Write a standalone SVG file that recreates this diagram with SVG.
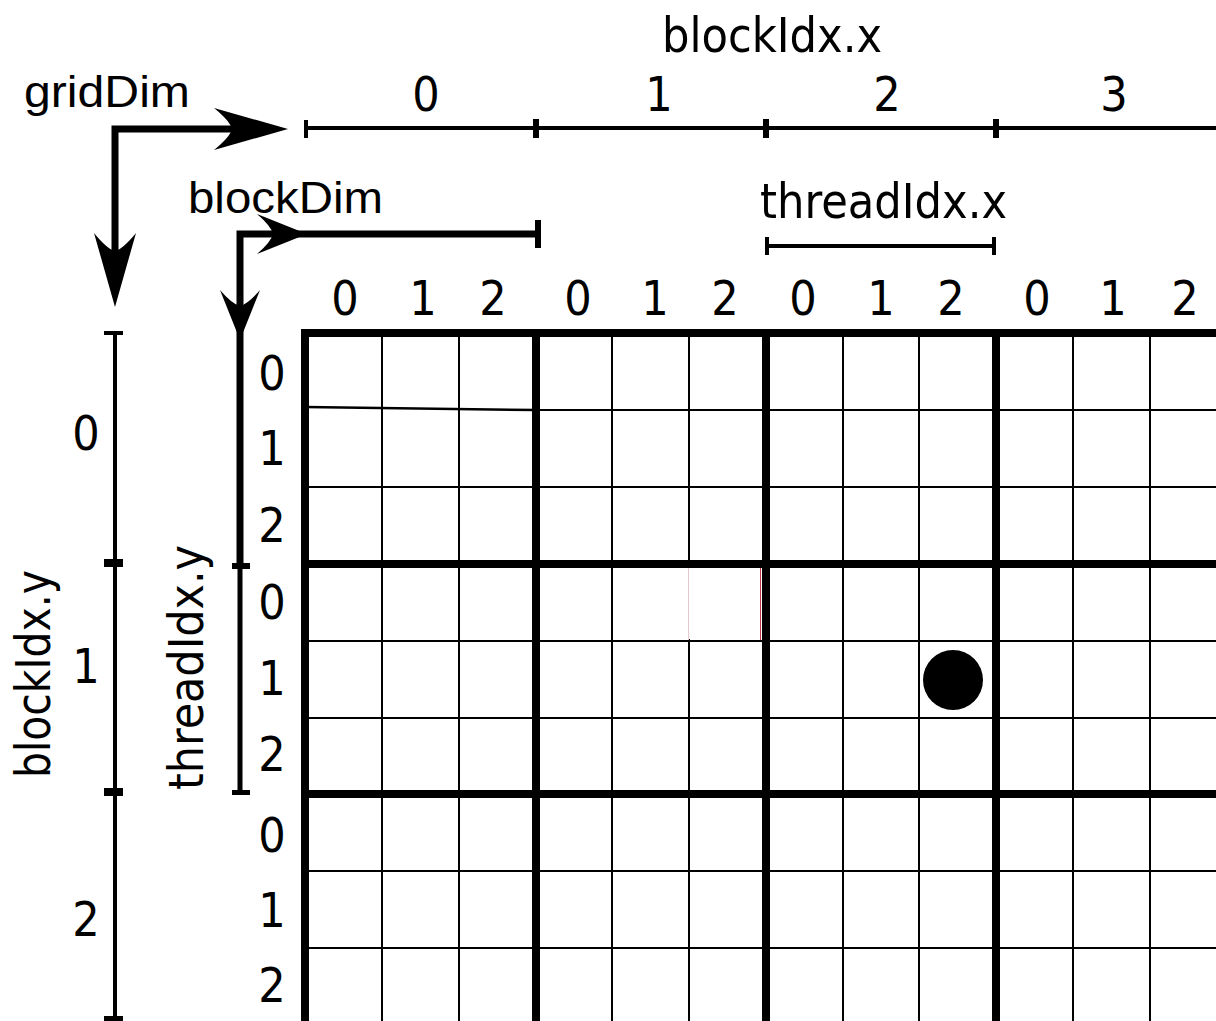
<svg xmlns="http://www.w3.org/2000/svg" width="1216" height="1021" viewBox="0 0 1216 1021">
<style>
.t{font-family:"DejaVu Sans Condensed","DejaVu Sans",sans-serif;font-size:48px;fill:#000}
.a{font-family:"Liberation Sans",Arial,sans-serif;font-size:45px;fill:#000}
.thin{stroke:#000;stroke-width:2;fill:none}
.thick{stroke:#000;stroke-width:8;fill:none}
.ax{stroke:#000;stroke-width:4;fill:none}
.el{stroke:#000;stroke-width:7;fill:none;stroke-linejoin:miter}
</style>
<defs>
<path id="bigHead" d="M0,0 L-74,-21 Q-58,-8 -56,0 Q-58,8 -74,21 Z" fill="#000"/>
<path id="smallHead" d="M0,0 L-50,-20 Q-36,-8 -34,0 Q-36,8 -50,20 Z" fill="#000"/>
</defs>
<rect width="1216" height="1021" fill="#fff"/>

<g id="grid">
<g class="thin">
<line x1="382" y1="333" x2="382" y2="1021"/>
<line x1="459" y1="333" x2="459" y2="1021"/>
<line x1="612" y1="333" x2="612" y2="1021"/>
<line x1="689" y1="333" x2="689" y2="1021"/>
<line x1="843" y1="333" x2="843" y2="1021"/>
<line x1="919" y1="333" x2="919" y2="1021"/>
<line x1="1073" y1="333" x2="1073" y2="1021"/>
<line x1="1150" y1="333" x2="1150" y2="1021"/>
<line x1="305" y1="407" x2="536" y2="410" stroke-width="2.5"/>
<line x1="536" y1="410" x2="1216" y2="410"/>
<line x1="305" y1="487" x2="1216" y2="487"/>
<line x1="305" y1="641" x2="1216" y2="641"/>
<line x1="305" y1="718" x2="1216" y2="718"/>
<line x1="305" y1="871" x2="1216" y2="871"/>
<line x1="305" y1="948" x2="1216" y2="948"/>
</g>
<g id="highlight-cell">
<rect x="688" y="567" width="73" height="72" fill="#fff"/>
<line x1="688.5" y1="567" x2="688.5" y2="640" stroke="#e8c8cc" stroke-width="1"/>
<line x1="760.5" y1="567" x2="760.5" y2="640" stroke="#c03848" stroke-width="1"/>
<line x1="689" y1="641" x2="761" y2="641" stroke="#000" stroke-width="2"/>
</g>
<g class="thick">
<line x1="305" y1="329" x2="305" y2="1021"/>
<line x1="536" y1="329" x2="536" y2="1021"/>
<line x1="766" y1="329" x2="766" y2="1021"/>
<line x1="996" y1="329" x2="996" y2="1021"/>
<line x1="301" y1="333" x2="1216" y2="333"/>
<line x1="301" y1="564" x2="1216" y2="564"/>
<line x1="301" y1="794" x2="1216" y2="794"/>
</g>
</g>

<g id="thread">
<circle cx="953" cy="680" r="30" fill="#000"/>
</g>

<g id="connectors">
<path class="el" d="M115,290 V129 H270"/>
<use href="#bigHead" transform="translate(288,129)"/>
<use href="#bigHead" transform="translate(115,307) rotate(90)"/>
<path class="el" d="M538,234 H240 V566"/>
<line x1="240" y1="566" x2="240" y2="792" stroke="#000" stroke-width="5"/>
<use href="#smallHead" transform="translate(307,234)"/>
<use href="#smallHead" transform="translate(240,340) rotate(90)"/>
<rect x="535" y="220" width="6" height="28" fill="#000"/>
<rect x="232" y="563" width="18" height="6" fill="#000"/>
<rect x="232" y="790" width="18" height="5" fill="#000"/>
</g>

<g id="blockIdx-x-axis">
<line class="ax" x1="306" y1="128" x2="1216" y2="128"/>
<rect x="304" y="120" width="4" height="18" fill="#000"/>
<rect x="533" y="119" width="6" height="19" fill="#000"/>
<rect x="763" y="119" width="6" height="19" fill="#000"/>
<rect x="993" y="119" width="6" height="19" fill="#000"/>
<text class="t" x="662" y="52" textLength="220" lengthAdjust="spacingAndGlyphs">blockIdx.x</text>
<text class="t" x="426" y="111" text-anchor="middle">0</text>
<text class="t" x="659" y="111" text-anchor="middle">1</text>
<text class="t" x="887" y="111" text-anchor="middle">2</text>
<text class="t" x="1114" y="111" text-anchor="middle">3</text>
</g>

<g id="threadIdx-x-axis">
<line class="ax" x1="767" y1="246" x2="994" y2="246"/>
<rect x="765" y="237" width="4" height="18" fill="#000"/>
<rect x="992" y="237" width="4" height="18" fill="#000"/>
<text class="t" x="760" y="218" textLength="247" lengthAdjust="spacingAndGlyphs">threadIdx.x</text>
</g>

<g id="blockIdx-y-axis">
<line class="ax" x1="115" y1="333" x2="115" y2="1021"/>
<rect x="104" y="331" width="19" height="4" fill="#000"/>
<rect x="104" y="559" width="19" height="8" fill="#000"/>
<rect x="104" y="788" width="19" height="8" fill="#000"/>
<rect x="104" y="1016" width="19" height="5" fill="#000"/>
<text class="t" x="86" y="450" text-anchor="middle">0</text>
<text class="t" x="86" y="683" text-anchor="middle">1</text>
<text class="t" x="86" y="936" text-anchor="middle">2</text>
<text class="t" transform="translate(50,674) rotate(-90)" text-anchor="middle" textLength="208" lengthAdjust="spacingAndGlyphs">blockIdx.y</text>
<text class="t" transform="translate(203,667.5) rotate(-90)" text-anchor="middle" textLength="245" lengthAdjust="spacingAndGlyphs">threadIdx.y</text>
</g>

<g id="labels">
<text class="a" x="24" y="107" textLength="166" lengthAdjust="spacingAndGlyphs">gridDim</text>
<text class="a" x="188" y="213" textLength="195" lengthAdjust="spacingAndGlyphs">blockDim</text>
</g>

<g id="col-indices">
<text class="t" x="345" y="315" text-anchor="middle">0</text>
<text class="t" x="423" y="315" text-anchor="middle">1</text>
<text class="t" x="493" y="315" text-anchor="middle">2</text>
<text class="t" x="578" y="315" text-anchor="middle">0</text>
<text class="t" x="655" y="315" text-anchor="middle">1</text>
<text class="t" x="725" y="315" text-anchor="middle">2</text>
<text class="t" x="803" y="315" text-anchor="middle">0</text>
<text class="t" x="881" y="315" text-anchor="middle">1</text>
<text class="t" x="951" y="315" text-anchor="middle">2</text>
<text class="t" x="1037" y="315" text-anchor="middle">0</text>
<text class="t" x="1113" y="315" text-anchor="middle">1</text>
<text class="t" x="1185" y="315" text-anchor="middle">2</text>
</g>

<g id="row-indices">
<text class="t" x="272" y="390" text-anchor="middle">0</text>
<text class="t" x="272" y="465" text-anchor="middle">1</text>
<text class="t" x="272" y="542" text-anchor="middle">2</text>
<text class="t" x="272" y="619" text-anchor="middle">0</text>
<text class="t" x="272" y="695" text-anchor="middle">1</text>
<text class="t" x="272" y="771" text-anchor="middle">2</text>
<text class="t" x="272" y="852" text-anchor="middle">0</text>
<text class="t" x="272" y="927" text-anchor="middle">1</text>
<text class="t" x="272" y="1002" text-anchor="middle">2</text>
</g>
</svg>
